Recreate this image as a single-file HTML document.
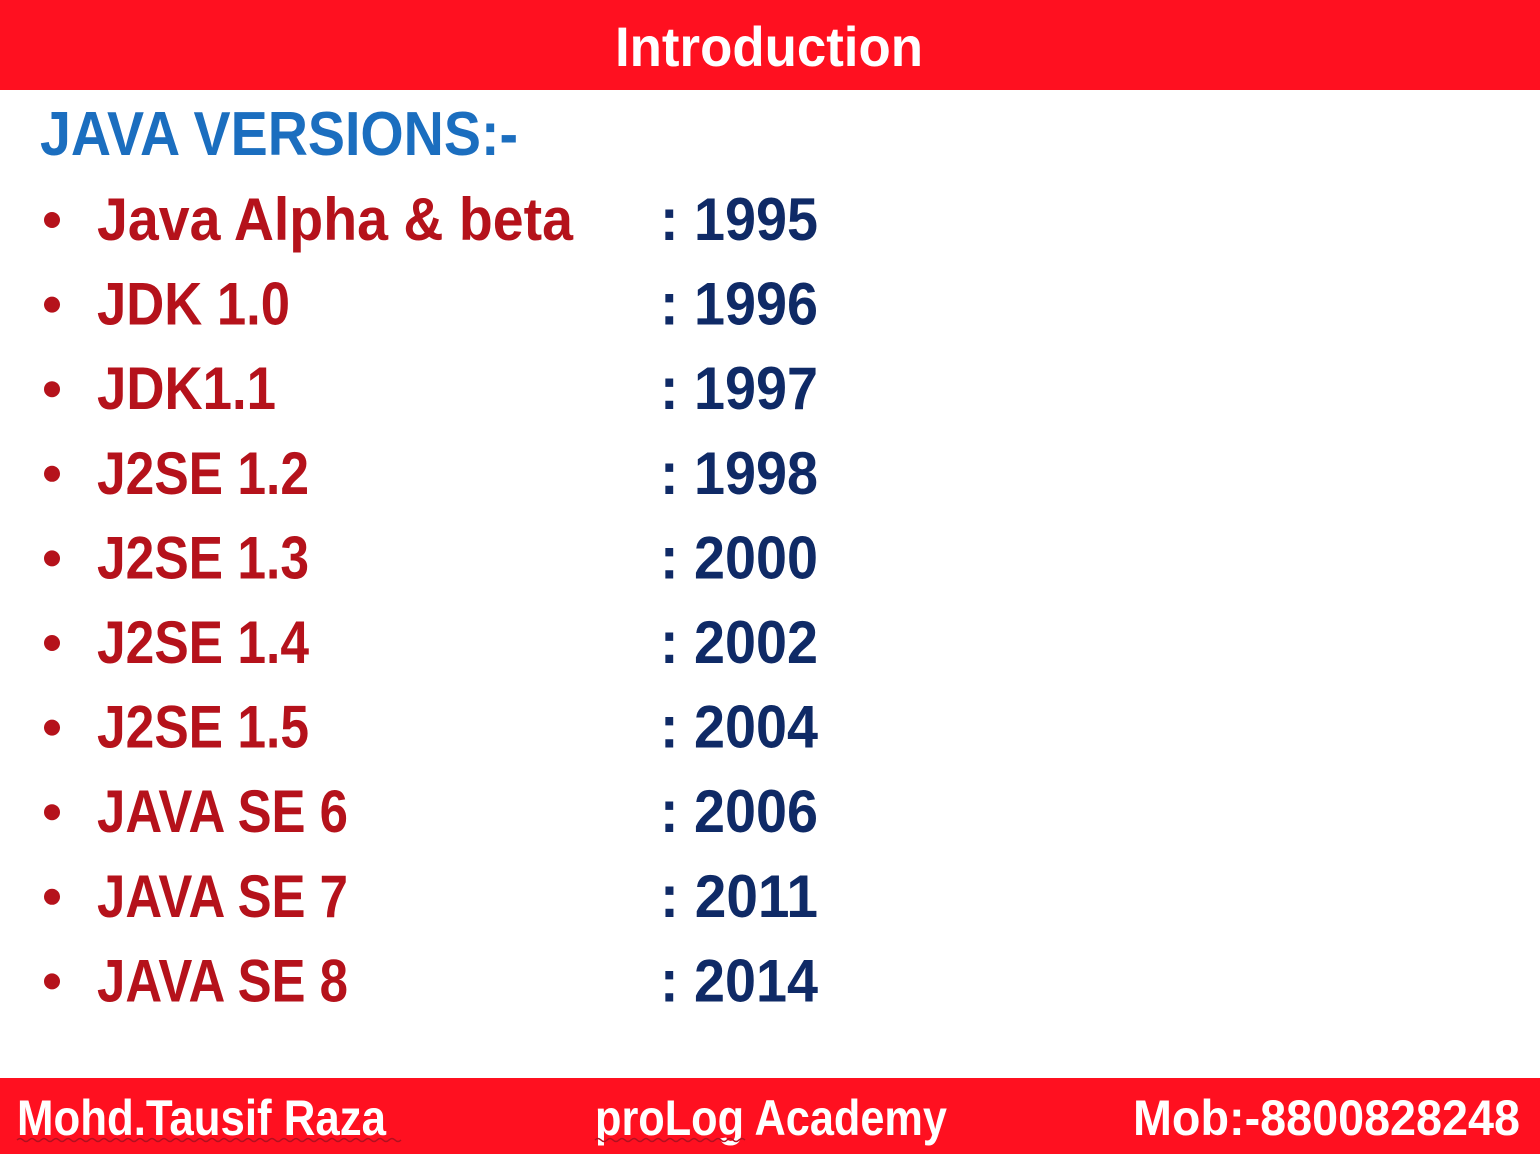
<!DOCTYPE html>
<html><head><meta charset="utf-8"><style>
html,body{margin:0;padding:0;background:#fff;}
svg{display:block;}
text{font-family:"Liberation Sans",sans-serif;font-weight:bold;}
</style></head><body>
<svg width="1540" height="1154" viewBox="0 0 1540 1154">
<rect x="0" y="0" width="1540" height="90" fill="#FF1020"/>
<text x="615" y="66" font-size="56" fill="#fff" textLength="308" lengthAdjust="spacingAndGlyphs">Introduction</text>
<text x="40" y="155" font-size="62" fill="#1B6EBF" textLength="478" lengthAdjust="spacingAndGlyphs">JAVA VERSIONS:-</text>
<g id="rows"></g>
<rect x="0" y="1078" width="1540" height="76" fill="#FF1020"/>
<text x="17" y="1135" font-size="50" fill="#fff" textLength="369" lengthAdjust="spacingAndGlyphs">Mohd.Tausif Raza</text>
<text x="595" y="1135" font-size="50" fill="#fff" textLength="352" lengthAdjust="spacingAndGlyphs">proLog Academy</text>
<text x="1133" y="1135" font-size="50" fill="#fff" textLength="387" lengthAdjust="spacingAndGlyphs">Mob:-8800828248</text>
<path d="M17 1140 q3 -3 6 0 t6 0 t6 0 t6 0 t6 0 t6 0 t6 0 t6 0 t6 0 t6 0 t6 0 t6 0 t6 0 t6 0 t6 0 t6 0 t6 0 t6 0 t6 0 t6 0 t6 0 t6 0 t6 0 t6 0 t6 0 t6 0 t6 0 t6 0 t6 0 t6 0 t6 0 t6 0 t6 0 t6 0 t6 0 t6 0 t6 0 t6 0 t6 0 t6 0 t6 0 t6 0 t6 0 t6 0 t6 0 t6 0 t6 0 t6 0 t6 0 t6 0 t6 0 t6 0 t6 0 t6 0 t6 0 t6 0 t6 0 t6 0 t6 0 t6 0 t6 0 t6 0 t6 0 t6 0" fill="none" stroke="#b01020" stroke-width="1.5"/>
<path d="M595 1140 q3 -3 6 0 t6 0 t6 0 t6 0 t6 0 t6 0 t6 0 t6 0 t6 0 t6 0 t6 0 t6 0 t6 0 t6 0 t6 0 t6 0 t6 0 t6 0 t6 0 t6 0 t6 0 t6 0 t6 0 t6 0 t6 0" fill="none" stroke="#b01020" stroke-width="1.5"/>
</svg>
<script>
const labels=["Java Alpha & beta","JDK 1.0","JDK1.1","J2SE 1.2","J2SE 1.3","J2SE 1.4","J2SE 1.5","JAVA SE 6","JAVA SE 7","JAVA SE 8"];
const years=["1995","1996","1997","1998","2000","2002","2004","2006","2011","2014"];
const labelWidths=[476,193,179,212,212,212,212,251,251,251];
const NS="http://www.w3.org/2000/svg";
const g=document.getElementById('rows');
labels.forEach((lab,i)=>{
  const y=240+i*84.6;
  const c=document.createElementNS(NS,'circle');
  c.setAttribute('cx',52);c.setAttribute('cy',y-20);c.setAttribute('r',8);c.setAttribute('fill','#B5121B');
  
  
  g.appendChild(c);
  const t=document.createElementNS(NS,'text');
  t.setAttribute('x',97);t.setAttribute('y',y);t.setAttribute('font-size',60);t.setAttribute('fill','#B5121B');
  t.setAttribute('textLength',labelWidths[i]);t.setAttribute('lengthAdjust','spacingAndGlyphs');
  t.textContent=lab;
  
  
  g.appendChild(t);
  const yr=document.createElementNS(NS,'text');
  yr.setAttribute('x',660);yr.setAttribute('y',y);yr.setAttribute('font-size',60);yr.setAttribute('fill','#0F2A66');
  yr.setAttribute('textLength',158);yr.setAttribute('lengthAdjust','spacingAndGlyphs');
  yr.textContent=': '+years[i];
  
  
  g.appendChild(yr);
});
</script>
</body></html>
